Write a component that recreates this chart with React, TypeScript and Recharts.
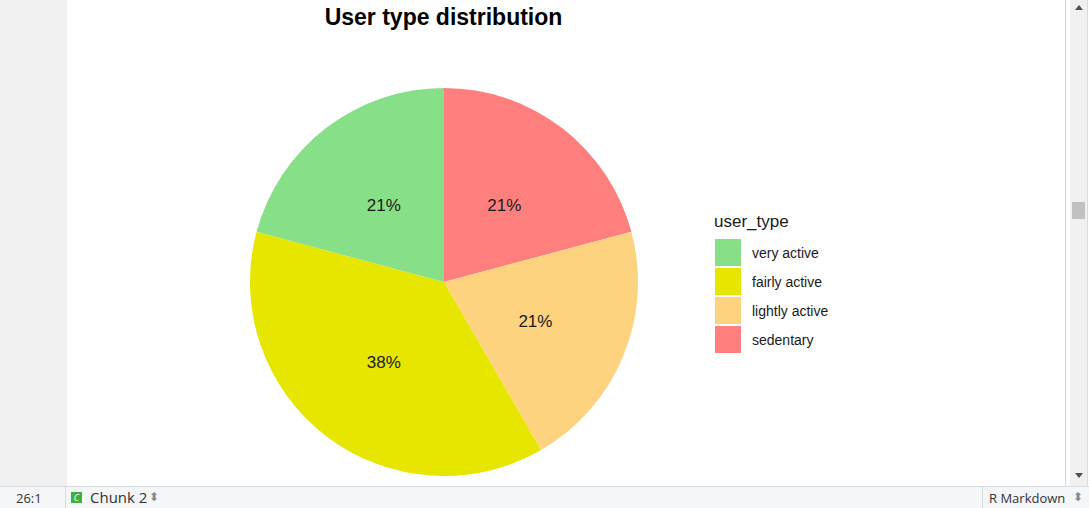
import { PieChart, Pie, Cell } from 'recharts'

// user type distribution, drawn clockwise from 12 o'clock
const userTypes = ['sedentary', 'lightly active', 'fairly active', 'very active']
const userCounts = [5, 5, 9, 5]
const sliceColors = ['#FF7F7F', '#FDD380', '#E6E600', '#87E087']
const legendOrder = ['very active', 'fairly active', 'lightly active', 'sedentary']

const pieData = userTypes.map((name, i) => ({ name, value: userCounts[i] }))

const RADIAN = Math.PI / 180

function PercentLabel(props: any) {
  const { cx, cy, midAngle, outerRadius, percent } = props
  const r = outerRadius * 0.51
  const x = cx + r * Math.cos(-midAngle * RADIAN)
  const y = cy + r * Math.sin(-midAngle * RADIAN) + 2
  return (
    <text x={x} y={y} fill="#1a1a1a" textAnchor="middle" dominantBaseline="central"
      style={{ fontFamily: 'Liberation Sans, Arial, sans-serif', fontSize: 17 }}>
      {Math.round(percent * 100)}%
    </text>
  )
}

function TypeLegend() {
  return (
    <div style={{ position: 'absolute', left: 714, top: 212, fontFamily: 'Liberation Sans, Arial, sans-serif', color: '#1a1a1a' }}>
      <div style={{ fontSize: 17, lineHeight: '20px', marginBottom: 6 }}>user_type</div>
      {legendOrder.map((name) => (
        <div key={name} style={{ display: 'flex', alignItems: 'center', height: 29 }}>
          <div style={{ width: 26, height: 27, marginLeft: 1, background: sliceColors[userTypes.indexOf(name)] }} />
          <span style={{ fontSize: 14, marginLeft: 11 }}>{name}</span>
        </div>
      ))}
    </div>
  )
}

export default function App() {
  const ui = { fontFamily: '"Open Sans", "Noto Sans", sans-serif', color: '#333' }
  return (
    <div style={{ position: 'fixed', left: 0, top: 0, width: 1089, height: 508, background: '#fff', overflow: 'hidden' }}>
      {/* editor gutter */}
      <div style={{ position: 'absolute', left: 0, top: 0, width: 67, height: 486, background: '#f0f0f0' }} />
      {/* plot area */}
      <div style={{ position: 'absolute', left: 67, top: 0, width: 998, height: 486 }}>
        <PieChart width={998} height={486}>
          <Pie
            data={pieData}
            dataKey="value"
            nameKey="name"
            cx={372}
            cy={277}
            outerRadius={194}
            startAngle={90}
            endAngle={-270}
            stroke="none"
            label={PercentLabel}
            labelLine={false}
            isAnimationActive={false}
          >
            {pieData.map((d, i) => (
              <Cell key={d.name} fill={sliceColors[i]} />
            ))}
          </Pie>
        </PieChart>
      </div>
      <div style={{ position: 'absolute', left: 67, top: 4, width: 753, textAlign: 'center', fontFamily: 'Liberation Sans, Arial, sans-serif', fontWeight: 'bold', fontSize: 23, color: '#000' }}>
        User type distribution
      </div>
      <TypeLegend />
      {/* scrollbar */}
      <div style={{ position: 'absolute', left: 1065, top: 0, width: 1, height: 486, background: '#d9d9d9' }} />
      <div style={{ position: 'absolute', left: 1070, top: 0, width: 17, height: 486, background: '#f0f0f0', borderRight: '1px solid #dcdcdc' }} />
      <div style={{ position: 'absolute', left: 1072, top: 202, width: 13, height: 17, background: '#c1c1c1' }} />
      <div style={{ position: 'absolute', left: 1075, top: 5, width: 0, height: 0, borderLeft: '4px solid transparent', borderRight: '4px solid transparent', borderBottom: '5px solid #505050' }} />
      <div style={{ position: 'absolute', left: 1075, top: 473, width: 0, height: 0, borderLeft: '4px solid transparent', borderRight: '4px solid transparent', borderTop: '5px solid #505050' }} />
      {/* status bar */}
      <div style={{ position: 'absolute', left: 0, top: 486, width: 1089, height: 22, background: '#f4f6f8', borderTop: '1px solid #d6dbe0', ...ui, fontSize: 13 }}>
        <span style={{ position: 'absolute', left: 16, top: 2 }}>26:1</span>
        <div style={{ position: 'absolute', left: 65, top: 0, width: 1, height: 22, background: '#d6dbe0' }} />
        <div style={{ position: 'absolute', left: 71, top: 5, width: 11, height: 11, background: '#3bb33b', color: '#fff', fontSize: 9, lineHeight: '11px', textAlign: 'center', fontStyle: 'italic' }}>C</div>
        <span style={{ position: 'absolute', left: 90, top: 1, fontSize: 15, lineHeight: '19px' }}>Chunk 2</span>
        <span style={{ position: 'absolute', left: 149, top: 1, fontSize: 12, color: '#888' }}>⬍</span>
        <div style={{ position: 'absolute', left: 982, top: 0, width: 1, height: 22, background: '#d6dbe0' }} />
        <span style={{ position: 'absolute', left: 989, top: 2, fontSize: 13 }}>R Markdown</span>
        <span style={{ position: 'absolute', left: 1073, top: 1, fontSize: 12, color: '#888' }}>⬍</span>
      </div>
    </div>
  )
}
